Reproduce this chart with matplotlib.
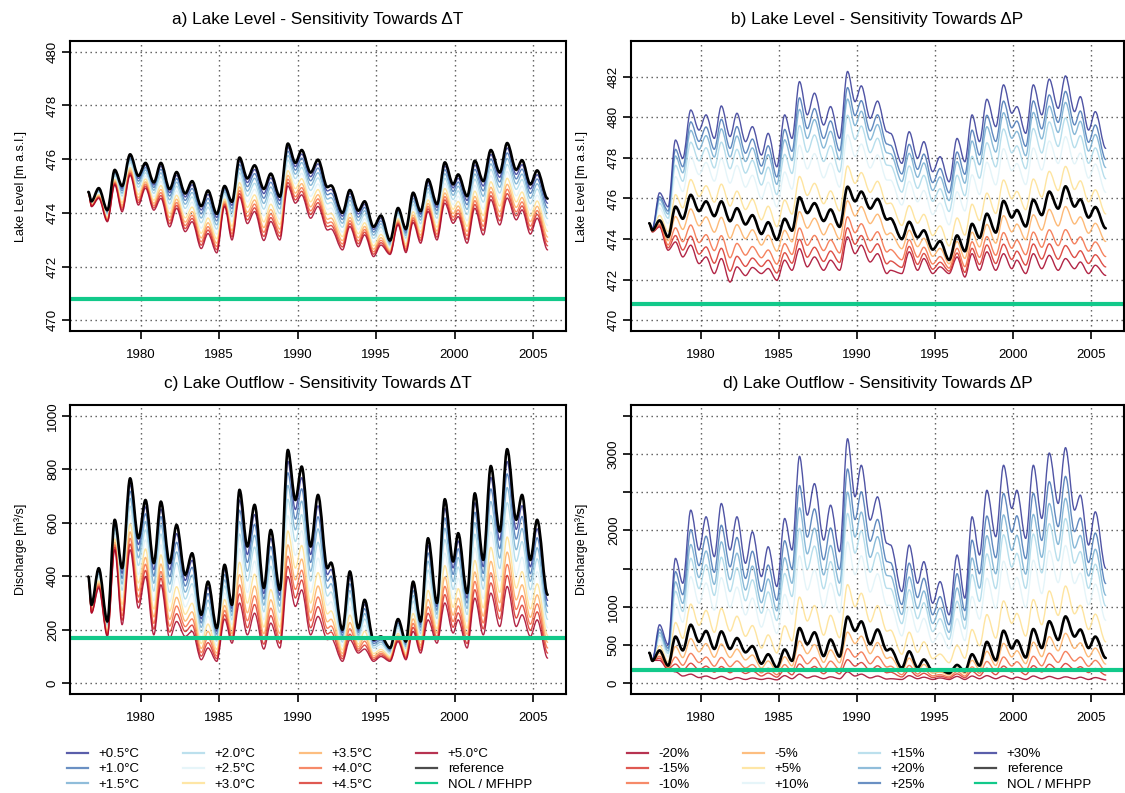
import matplotlib
matplotlib.use("Agg")
import matplotlib.pyplot as plt
import numpy as np
from matplotlib.lines import Line2D
from matplotlib.path import Path
from matplotlib.patches import PathPatch

plt.rcParams['font.family'] = ['Liberation Sans', 'DejaVu Sans']

# Time of each seasonal high / low of the simulated series (decimal years)
years = [1976.67, 1976.87, 1977.33, 1977.88, 1978.35, 1978.82, 1979.33, 1979.86,
         1980.31, 1980.84, 1981.29, 1981.85, 1982.29, 1982.84, 1983.28, 1983.86,
         1984.29, 1984.85, 1985.35, 1985.82, 1986.30, 1986.80, 1987.26, 1987.85,
         1988.29, 1988.87, 1989.38, 1989.86, 1990.26, 1990.83, 1991.30, 1991.90,
         1992.13, 1992.86, 1993.33, 1993.87, 1994.27, 1994.84, 1995.31, 1995.89,
         1996.40, 1996.90, 1997.36, 1997.84, 1998.31, 1998.88, 1999.38, 1999.91,
         2000.23, 2000.80, 2001.29, 2001.83, 2002.31, 2002.88, 2003.35, 2003.93,
         2004.30, 2004.83, 2005.26, 2005.93]

# Lake level [m a.s.l.]
level_reference = [474.78, 474.43, 474.92, 474.10, 475.60, 475.00, 476.18, 475.38,
                   475.86, 475.13, 475.86, 474.88, 475.52, 474.72, 475.18, 474.25,
                   474.83, 473.96, 475.00, 474.41, 476.06, 475.28, 475.77, 474.89,
                   475.46, 474.60, 476.58, 475.86, 476.34, 475.50, 475.98, 474.96,
                   475.02, 474.00, 474.85, 474.08, 474.43, 473.48, 473.90, 472.97,
                   474.18, 473.40, 474.75, 474.06, 475.25, 474.32, 475.88, 475.06,
                   475.43, 474.62, 475.94, 475.18, 476.34, 475.50, 476.60, 475.60,
                   475.96, 475.06, 475.58, 474.53]
level_plus5C = [474.75, 474.23, 474.54, 473.67, 475.04, 474.04, 475.40, 474.29,
                474.92, 474.10, 474.54, 473.48, 474.17, 473.30, 473.67, 472.67,
                473.23, 472.51, 474.24, 472.99, 474.60, 473.60, 474.05, 472.97,
                473.68, 472.99, 475.00, 474.36, 474.67, 473.80, 474.24, 473.36,
                473.40, 472.62, 473.49, 472.74, 473.18, 472.37, 472.80, 472.45,
                473.55, 472.52, 473.64, 472.87, 474.05, 472.99, 474.36, 473.61,
                473.86, 472.87, 474.17, 473.18, 474.49, 473.55, 474.55, 473.74,
                474.11, 473.21, 473.80, 472.62]
level_minus20 = [474.77, 474.35, 474.60, 473.45, 473.86, 473.12, 473.70, 472.79,
                 473.12, 472.30, 473.04, 471.88, 472.63, 472.20, 472.60, 472.30,
                 472.55, 471.97, 472.96, 472.46, 473.53, 472.63, 473.12, 472.46,
                 472.96, 472.46, 474.11, 473.28, 473.70, 472.87, 473.28, 472.30,
                 472.46, 472.30, 473.37, 472.46, 473.04, 472.30, 472.63, 472.30,
                 473.12, 472.13, 473.28, 472.46, 473.37, 472.46, 473.28, 472.54,
                 472.96, 472.30, 473.28, 472.54, 473.20, 472.46, 473.04, 472.54,
                 472.87, 472.30, 472.71, 472.21]
level_plus30 = [474.77, 474.52, 476.28, 475.59, 478.88, 477.98, 480.36, 479.37,
                480.12, 478.96, 480.56, 479.05, 480.20, 478.80, 479.54, 478.14,
                479.21, 477.56, 480.12, 478.96, 481.76, 480.12, 481.19, 479.62,
                480.53, 478.96, 482.26, 480.77, 481.55, 479.95, 480.80, 479.29,
                479.21, 477.73, 479.29, 477.98, 478.80, 477.32, 478.06, 476.82,
                478.96, 477.81, 480.12, 478.80, 480.89, 479.54, 481.60, 480.20,
                480.53, 479.21, 481.60, 480.12, 481.88, 480.44, 482.04, 480.28,
                481.02, 479.37, 480.28, 478.47]

# Lake outflow [m3/s]
outflow_reference = [399, 293, 430, 231, 611, 430, 766, 542, 685, 449, 679, 449,
                     592, 405, 486, 256, 380, 206, 443, 293, 723, 511, 667, 356,
                     573, 349, 872, 685, 810, 511, 704, 430, 451, 200, 418, 206,
                     312, 163, 175, 132, 240, 156, 380, 231, 542, 300, 688, 455,
                     561, 337, 710, 461, 812, 567, 875, 611, 704, 461, 611, 331]
outflow_plus5C = [399, 262, 356, 175, 499, 219, 499, 281, 399, 181, 368, 169,
                  231, 175, 194, 88, 132, 82, 240, 150, 300, 181, 262, 128,
                  225, 132, 399, 287, 349, 181, 250, 163, 169, 82, 163, 113,
                  128, 82, 100, 82, 156, 88, 194, 113, 237, 150, 300, 188,
                  237, 132, 318, 181, 337, 212, 362, 212, 256, 175, 237, 94]
outflow_minus20 = [396, 300, 300, 180, 150, 95, 120, 75, 95, 60, 90, 50,
                   75, 50, 70, 50, 65, 45, 100, 60, 120, 70, 95, 60,
                   85, 60, 150, 95, 120, 70, 95, 55, 60, 50, 100, 60,
                   80, 50, 70, 50, 90, 50, 95, 60, 100, 60, 95, 60,
                   80, 50, 95, 60, 90, 60, 85, 60, 80, 50, 75, 45]
outflow_plus30 = [396, 309, 766, 505, 1634, 1308, 2265, 1743, 2178, 1656, 2352, 1743,
                  2178, 1569, 1982, 1395, 1786, 1265, 2156, 1743, 2969, 2199, 2612, 1873,
                  2330, 1721, 3199, 2439, 2852, 2134, 2439, 1830, 1810, 1200, 1808, 1308,
                  1591, 1047, 1330, 895, 1678, 1113, 2178, 1678, 2525, 1917, 2852, 2287,
                  2525, 1895, 2852, 2156, 3012, 2352, 3082, 2265, 2461, 1808, 2243, 1504]

# Temperature scenarios: share of the distance from the reference run
# to the +5.0 degC run
temp_labels = ['+0.5°C', '+1.0°C', '+1.5°C', '+2.0°C', '+2.5°C',
               '+3.0°C', '+3.5°C', '+4.0°C', '+4.5°C', '+5.0°C']
temp_weights = [0.09, 0.18, 0.28, 0.39, 0.52, 0.64, 0.75, 0.84, 0.92, 1.0]

# Precipitation scenarios: share of the distance from the reference run
# to the -20 % run (drier) or to the +30 % run (wetter)
precip_labels = ['-20%', '-15%', '-10%', '-5%', '+5%',
                 '+10%', '+15%', '+20%', '+25%', '+30%']
precip_weights_level = [1.0, 0.82, 0.60, 0.28, 0.18, 0.45, 0.62, 0.76, 0.86, 1.0]
precip_weights_outflow = [1.0, 0.78, 0.58, 0.28, 0.18, 0.42, 0.58, 0.70, 0.83, 1.0]

nol_level = 470.8      # normal operating level of the reservoir
nol_outflow = 170      # minimum flow for hydropower production

palette = ['#a50026', '#d73027', '#f46d43', '#fdae61', '#fee090',
           '#e0f3f8', '#abd9e9', '#74add1', '#4575b4', '#313695']
temp_colors = palette[::-1]
precip_colors = palette
nol_color = '#12c98a'

W, H = 1125, 793
fig = plt.figure(figsize=(W / 100, H / 100), dpi=100)


def px_axes(x0, y0, x1, y1):
    return fig.add_axes([x0 / W, 1 - y1 / H, (x1 - x0) / W, (y1 - y0) / H])


ax_a = px_axes(70, 41, 566, 331)
ax_b = px_axes(631, 41, 1124, 331)
ax_c = px_axes(70, 405, 566, 694)
ax_d = px_axes(631, 405, 1124, 694)


def blend(ref, other, w):
    ref = np.asarray(ref, float)
    other = np.asarray(other, float)
    return ref + w * (other - ref)


def smooth_line(ax, x, y, **kw):
    """Draw a series as a smooth curve through its highs and lows
    (cubic Bezier segments with flat tangents at every point)."""
    x = np.asarray(x, float)
    y = np.asarray(y, float)
    verts = [(x[0], y[0])]
    codes = [Path.MOVETO]
    for i in range(len(x) - 1):
        dx = (x[i + 1] - x[i]) / 3.0
        verts += [(x[i] + dx, y[i]), (x[i + 1] - dx, y[i + 1]), (x[i + 1], y[i + 1])]
        codes += [Path.CURVE4] * 3
    patch = PathPatch(Path(verts, codes), fill=False, joinstyle='round',
                      capstyle='round', **kw)
    ax.add_patch(patch)


def style(ax, title, ylabel, yticks, ylim, shown=None):
    ax.set_xlim(1975.5, 2007.1)
    ax.set_ylim(*ylim)
    ax.set_xticks([1980, 1985, 1990, 1995, 2000, 2005])
    ax.set_yticks(yticks)
    if shown is None:
        shown = yticks
    ax.set_yticklabels([str(v) if v in shown else '' for v in yticks],
                       rotation=90, va='center')
    ax.grid(True, color='#555555', lw=1.0, dashes=(1, 2.6))
    ax.set_axisbelow(True)
    ax.tick_params(direction='out', length=6, width=1.2, labelsize=9.5)
    ax.tick_params(axis='x', pad=7)
    ax.tick_params(axis='y', pad=2)
    for s in ax.spines.values():
        s.set_linewidth(1.5)
    ax.set_title(title, fontsize=12.4, pad=12)
    ax.set_ylabel(ylabel, fontsize=9, labelpad=14)


t = years

# a) lake level vs temperature
for w, c in zip(temp_weights, temp_colors):
    smooth_line(ax_a, t, blend(level_reference, level_plus5C, w),
                edgecolor=c, lw=1.0, alpha=0.85)
smooth_line(ax_a, t, level_reference, edgecolor='black', lw=1.9)
ax_a.axhline(nol_level, color=nol_color, lw=3)
style(ax_a, 'a) Lake Level - Sensitivity Towards ΔT', 'Lake Level [m a.s.l.]',
      [470, 472, 474, 476, 478, 480], (469.6, 480.4))

# b) lake level vs precipitation
for i, (lab, c) in enumerate(zip(precip_labels, precip_colors)):
    other = level_minus20 if lab.startswith('-') else level_plus30
    smooth_line(ax_b, t, blend(level_reference, other, precip_weights_level[i]),
                edgecolor=c, lw=1.0, alpha=0.85)
smooth_line(ax_b, t, level_reference, edgecolor='black', lw=1.9)
ax_b.axhline(nol_level, color=nol_color, lw=3)
style(ax_b, 'b) Lake Level - Sensitivity Towards ΔP', 'Lake Level [m a.s.l.]',
      [470, 472, 474, 476, 478, 480, 482], (469.47, 483.76))

# c) lake outflow vs temperature
for w, c in zip(temp_weights, temp_colors):
    smooth_line(ax_c, t, blend(outflow_reference, outflow_plus5C, w),
                edgecolor=c, lw=1.0, alpha=0.85)
smooth_line(ax_c, t, outflow_reference, edgecolor='black', lw=1.9)
ax_c.axhline(nol_outflow, color=nol_color, lw=3)
style(ax_c, 'c) Lake Outflow - Sensitivity Towards ΔT', 'Discharge [m³/s]',
      [0, 200, 400, 600, 800, 1000], (-40, 1040))

# d) lake outflow vs precipitation
for i, (lab, c) in enumerate(zip(precip_labels, precip_colors)):
    other = outflow_minus20 if lab.startswith('-') else outflow_plus30
    smooth_line(ax_d, t, blend(outflow_reference, other, precip_weights_outflow[i]),
                edgecolor=c, lw=1.0, alpha=0.85)
smooth_line(ax_d, t, outflow_reference, edgecolor='black', lw=1.9)
ax_d.axhline(nol_outflow, color=nol_color, lw=3)
style(ax_d, 'd) Lake Outflow - Sensitivity Towards ΔP', 'Discharge [m³/s]',
      [0, 500, 1000, 1500, 2000, 2500, 3000, 3500], (-140, 3640),
      shown=[0, 500, 1000, 2000, 3000])


# Legends below the panels, one column at a time
def legend_block(labels, colors, x_cols):
    handles = [Line2D([], [], color=c, lw=1.6, alpha=0.8) for c in colors]
    handles += [Line2D([], [], color='black', lw=1.6, alpha=0.7),
                Line2D([], [], color=nol_color, lw=1.6)]
    names = list(labels) + ['reference', 'NOL / MFHPP']
    for k, x in enumerate(x_cols):
        fig.legend(handles[3 * k:3 * k + 3], names[3 * k:3 * k + 3],
                   loc='upper left', bbox_to_anchor=(x / W, 1 - 748 / H),
                   frameon=False, borderpad=0, borderaxespad=0,
                   handlelength=1.6, handletextpad=0.8, labelspacing=0.22,
                   fontsize=9.5)


legend_block(temp_labels, temp_colors, [67, 183, 300, 416])
legend_block(precip_labels, precip_colors, [627, 743, 859, 975])

fig.savefig('out.png', dpi=100)
